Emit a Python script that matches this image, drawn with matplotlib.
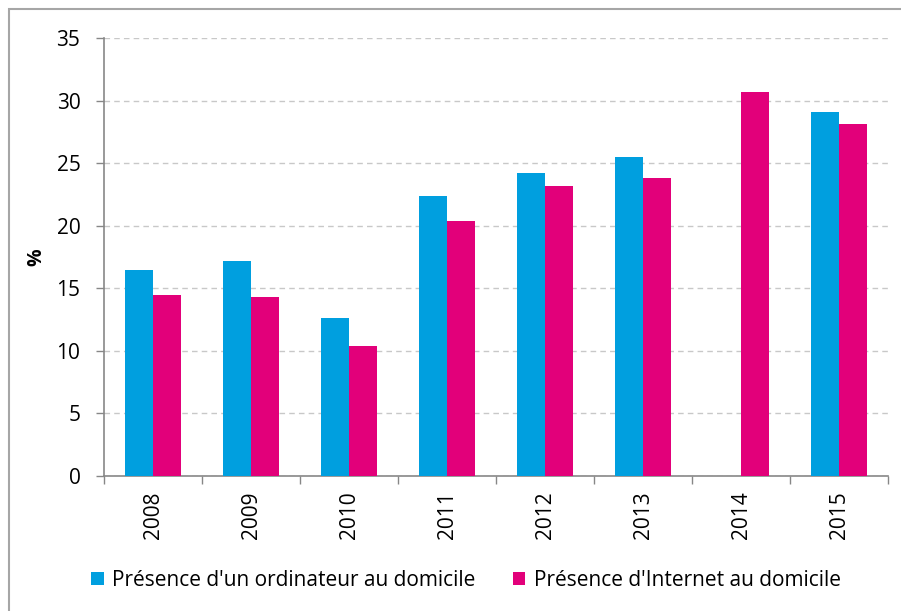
import matplotlib
matplotlib.use("Agg")
import matplotlib.pyplot as plt
import numpy as np
from matplotlib.patches import Rectangle

years = ["2008", "2009", "2010", "2011", "2012", "2013", "2014", "2015"]
ordinateur = [16.5, 17.2, 12.65, 22.35, 24.25, 25.5, np.nan, 29.05]
internet = [14.5, 14.3, 10.35, 20.35, 23.15, 23.85, 30.65, 28.15]
labels = ["Présence d'un ordinateur au domicile", "Présence d'Internet au domicile"]
colors = ["#009FDF", "#E2007A"]

plt.rcParams['font.family'] = ['Open Sans', 'DejaVu Sans']

W, H = 901, 611
fig = plt.figure(figsize=(W / 100, H / 100), dpi=100)
fig.patch.set_facecolor("white")

# outer frame
fig.patches.append(Rectangle((9 / W, -0.1), 1.2, (H - 9) / H + 0.1, transform=fig.transFigure,
                             fill=False, edgecolor="#A6A6A6", linewidth=1.5, zorder=0))

ax = fig.add_axes([104 / W, 135 / H, (888 - 104) / W, 438 / H])
x = np.arange(len(years))
bw = 0.29
ax.bar(x - bw / 2, ordinateur, width=bw, color=colors[0], label=labels[0], zorder=3)
ax.bar(x + bw / 2, internet, width=bw, color=colors[1], label=labels[1], zorder=3)

ax.set_xlim(-0.5, len(years) - 0.5)
ax.set_ylim(0, 35)
ax.set_yticks(np.arange(0, 36, 5))
ax.set_xticks(np.arange(-0.5, len(years), 1.0))
ax.set_xticklabels([])
ax.set_xticks(x, minor=True)
ax.set_xticklabels(years, minor=True, rotation=90, fontsize=15)
ax.tick_params(axis="x", which="minor", length=0, pad=11)
ax.tick_params(axis="x", which="major", length=6, color="#878787", width=1)
ax.tick_params(axis="y", length=6, color="#878787", width=1, labelsize=15, pad=11)

ax.yaxis.grid(True, linestyle=(0, (4, 3)), color="#C8C8C8", linewidth=1, zorder=0)
ax.set_axisbelow(True)
for s in ["top", "right"]:
    ax.spines[s].set_visible(False)
for s in ["left", "bottom"]:
    ax.spines[s].set_color("#878787")
    ax.spines[s].set_linewidth(1.2)

ax.set_ylabel("%", fontsize=14, fontweight="bold", labelpad=7)

fig.legend(loc="center", bbox_to_anchor=(466 / W, 1 - 580 / H), ncol=2, frameon=False,
           fontsize=15, handlelength=0.6, handleheight=0.6, handletextpad=0.4, columnspacing=1.8)

fig.savefig("out.png", dpi=100)
